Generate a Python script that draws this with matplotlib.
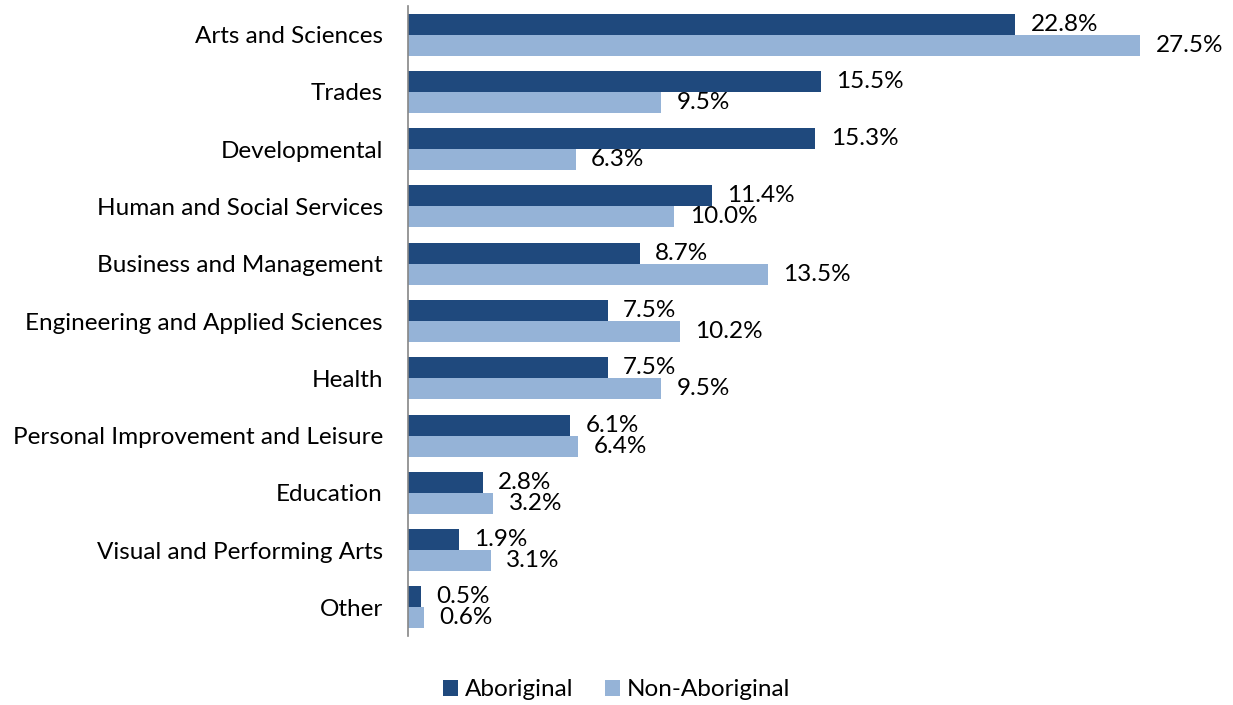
import matplotlib.pyplot as plt
import numpy as np

plt.rcParams['font.family'] = ['Lato', 'DejaVu Sans']

categories = ['Arts and Sciences', 'Trades', 'Developmental',
              'Human and Social Services', 'Business and Management',
              'Engineering and Applied Sciences', 'Health',
              'Personal Improvement and Leisure', 'Education',
              'Visual and Performing Arts', 'Other']
aboriginal = [22.8, 15.5, 15.3, 11.4, 8.7, 7.5, 7.5, 6.1, 2.8, 1.9, 0.5]
non_aboriginal = [27.5, 9.5, 6.3, 10.0, 13.5, 10.2, 9.5, 6.4, 3.2, 3.1, 0.6]
series_names = ['Aboriginal', 'Non-Aboriginal']
colors = ['#1F497D', '#95B3D7']

fs = 17.5

fig = plt.figure(figsize=(12.33, 7.05), dpi=100)
# axes placed so the spine sits where the reference has it
ax = fig.add_axes([408/1233, 1 - 636/705, (1207 - 408)/1233, (636 - 6)/705])

y = np.arange(len(categories))
h = 0.367
b1 = ax.barh(y - h/2, aboriginal, height=h, color=colors[0], label=series_names[0])
b2 = ax.barh(y + h/2, non_aboriginal, height=h, color=colors[1], label=series_names[1])

for bars, vals in ((b1, aboriginal), (b2, non_aboriginal)):
    for bar, v in zip(bars, vals):
        ax.annotate('%.1f%%' % v, (bar.get_width(), bar.get_y() + bar.get_height()/2),
                    xytext=(11, 0), textcoords='offset points',
                    va='center', ha='left', fontsize=fs)

ax.set_ylim(len(categories) - 0.5, -0.5)
ax.set_xlim(0, 30)
ax.set_yticks(y)
ax.set_yticklabels(categories, fontsize=fs)
ax.tick_params(axis='y', length=0, pad=18)
ax.set_xticks([])
for s in ['top', 'right', 'bottom']:
    ax.spines[s].set_visible(False)
ax.spines['left'].set_color('#868686')
ax.spines['left'].set_linewidth(1.2)

fig.legend(handles=[b1, b2], loc='center', bbox_to_anchor=(617/1233, 1 - 690/705),
           ncol=2, frameon=False, fontsize=fs, handlelength=0.6, handleheight=0.6,
           handletextpad=0.3, columnspacing=1.3)

fig.savefig('out.png', dpi=100)
